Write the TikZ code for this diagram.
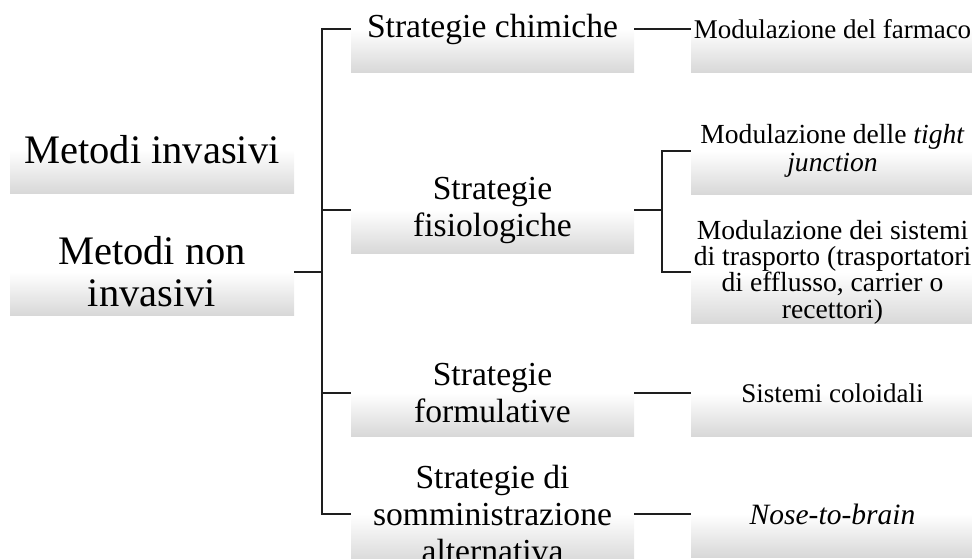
\documentclass[tikz,border=0pt]{standalone}
\usepackage{fontspec}
\setmainfont{Liberation Serif}
\definecolor{boxgray}{RGB}{216,216,216}
\definecolor{linecol}{RGB}{30,30,30}
\begin{document}
\begin{tikzpicture}[x=1pt,y=-1pt,
  box/.style={minimum width=283pt, minimum height=86pt, inner sep=0pt, align=center,
    top color=white, bottom color=boxgray, middle color=white, draw=none},
  lvlone/.style={box, minimum width=284pt, font=\fontsize{40.5}{42}\selectfont},
  lvltwo/.style={box, font=\fontsize{33.6}{37}\selectfont},
  lvlthree/.style={box, font=\fontsize{27}{29}\selectfont},
  lvlthreeb/.style={box, font=\fontsize{27.6}{28}\selectfont},
  lvlthreec/.style={box, font=\fontsize{27.6}{26.3}\selectfont},
  lvlthreed/.style={box, font=\fontsize{29.5}{31}\selectfont},
  conn/.style={line width=1.6pt, draw=linecol}]
\useasboundingbox (0,0) rectangle (972,558);
\begin{scope}
\clip (0,0) rectangle (972,558);
% level 1
\node[lvlone] (inv) at (152,150) {Metodi invasivi};
\node[lvlone] (noninv) at (152,272) {Metodi non\\invasivi};
% level 2
\node[lvltwo] (chim) at (492.5,29) {Strategie chimiche};
\node[lvltwo] (fis) at (492.5,210) {Strategie\\fisiologiche};
\node[lvltwo] (form) at (492.5,393) {Strategie\\formulative};
\node[lvltwo] (somm) at (492.5,514) {Strategie di\\somministrazione\\alternativa};
% level 3
\node[lvlthree] (farm) at (832.5,29) {Modulazione del farmaco};
\node[lvlthreeb] (tight) at (832.5,151) {Modulazione delle \textit{tight}\\\textit{junction}};
\node[lvlthreec] (sist) at (832.5,272) {Modulazione dei sistemi\\di trasporto (trasportatori\\di efflusso, carrier o\\recettori)};
\node[lvlthree] (coll) at (832.5,393) {Sistemi coloidali};
\node[lvlthreed] (nose) at (832.5,514) {\textit{Nose-to-brain}};
\end{scope}
% trunks
\coordinate (tk) at (322,0);
\coordinate (tktwo) at (662,0);
% connectors
\draw[conn] (chim.west) -- (chim.west -| tk) -- (somm.west -| tk) -- (somm.west);
\draw[conn] (fis.west -| tk) -- (fis.west);
\draw[conn] (form.west -| tk) -- (form.west);
\draw[conn] (noninv.east) -- (noninv.east -| tk);
\draw[conn] (chim.east) -- (farm.west);
\draw[conn] (form.east) -- (coll.west);
\draw[conn] (somm.east) -- (nose.west);
\draw[conn] (fis.east) -- (fis.east -| tktwo);
\draw[conn] (tight.west) -- (tight.west -| tktwo) -- (sist.west -| tktwo) -- (sist.west);
\end{tikzpicture}
\end{document}
